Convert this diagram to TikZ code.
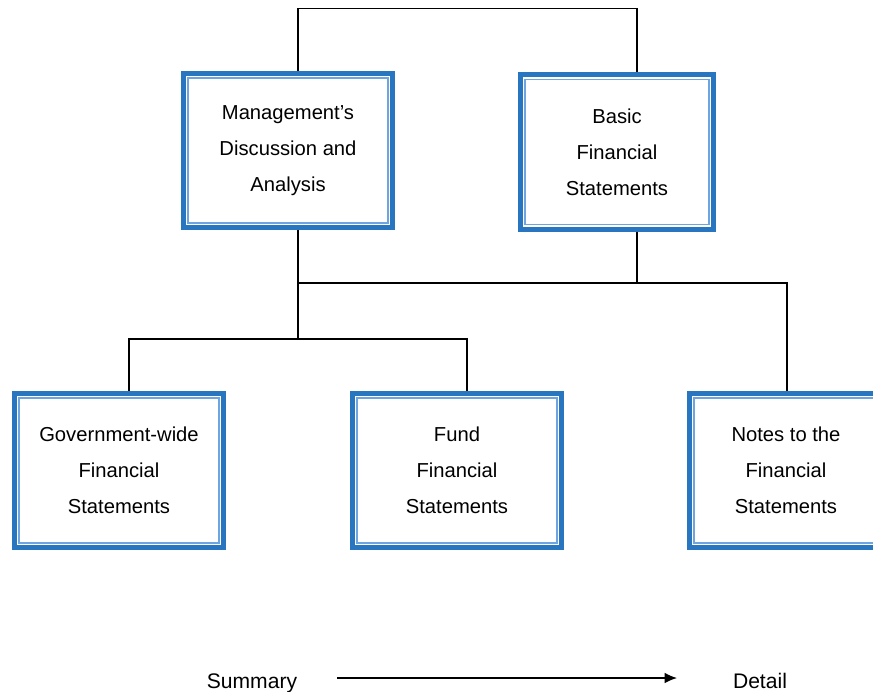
\documentclass[tikz,border=0pt]{standalone}
\usepackage{fontspec}
\setmainfont{Liberation Sans}
\usepackage[svgnames, dvipsnames]{xcolor}
\usetikzlibrary{calc, arrows.meta}
\definecolor{BoxBlue}{RGB}{40,118,192}
\definecolor{BoxLight}{RGB}{110,165,222}
\tikzset{>=latex}
\tikzset{
  report/.style={draw=BoxBlue, line width=2.6pt, fill=white, inner sep=0pt,
    minimum height=3.09cm, align=center, font=\fontsize{11.5}{20.4}\selectfont,
    path picture={\draw[BoxLight, line width=0.9pt]
      ([shift={(2.7pt,-2.7pt)}]path picture bounding box.north west) rectangle
      ([shift={(-2.7pt,2.7pt)}]path picture bounding box.south east);}},
  wide/.style={report, minimum width=4.18cm},
  narrow/.style={report, minimum width=3.87cm},
  link/.style={line width=0.7pt, black},
  scale label/.style={anchor=base, font=\fontsize{12}{14}\selectfont}
}

\begin{document}
\begin{tikzpicture}[x=0.02cm, y=-0.02cm]
    \useasboundingbox (0,0) rectangle (873,691);
    \clip (0,0) rectangle (873,691);
    \node [wide] (mda) at (288,150.5) {Management's\\Discussion and\\Analysis};
    \node [narrow] (bfs) at (617,152) {Basic\\Financial\\Statements};
    \node [wide] (gw) at (119,470.5) {Government-wide\\Financial\\Statements};
    \node [wide] (fund) at (457,470.5) {Fund\\Financial\\Statements};
    \node [narrow] (notes) at (786,470.5) {Notes to the\\Financial\\Statements};
    \coordinate (j1) at (298,8.5);
    \coordinate (j2) at (637,8.5);
    \coordinate (b1) at (298,283);
    \coordinate (b2) at (787,283);
    \coordinate (b3) at (129,339);
    \coordinate (b4) at (467,339);
    \draw [link] (mda.north -| j1) -- (j1) -- (j2) -- (bfs.north -| j2);
    \draw [link] (mda.south -| b1) -- (b1) -- (b2) -- (notes.north -| b2);
    \draw [link] (bfs.south -| j2) -- (j2 |- b1);
    \draw [link] (b1) -- (b1 |- b3);
    \draw [link] (gw.north -| b3) -- (b3) -- (b4) -- (fund.north -| b4);
    \node [scale label] (sum) at (252,688) {Summary};
    \node [scale label] (det) at (760,688) {Detail};
    \coordinate (a1) at (337,678);
    \coordinate (a2) at (677,678);
    \draw [link, -{Latex[length=7pt, width=6pt]}] (a1) -- (a2);
\end{tikzpicture}
\end{document}
